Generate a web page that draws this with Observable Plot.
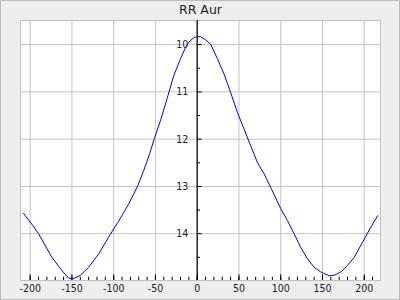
<!DOCTYPE html>
<html>
<head>
<meta charset="utf-8">
<script src="https://cdn.jsdelivr.net/npm/d3@7"></script>
<script src="https://cdn.jsdelivr.net/npm/@observablehq/plot@0.6"></script>
<style>
  html, body { margin: 0; padding: 0; background: #eeeeee; }
  #chart svg { display: block; outline: 1px solid #bdbdbd; outline-offset: -1px; }
</style>
</head>
<body>
<div id="chart"></div>
<script>
const title = "RR Aur";
const phase = [-208, -198, -190, -174, -162, -154, -148, -140, -130, -118, -106, -95, -82, -71, -64, -57, -51, -44, -36, -28, -20, -14, -10, -6, -2, 4, 10, 16, 24, 32, 40, 48, 56, 64, 72, 80, 88, 100, 108, 116, 124, 132, 140, 148, 158, 164, 172, 180, 188, 198, 208, 216];
const mag =   [13.57, 13.80, 14.00, 14.50, 14.78, 14.94, 14.95, 14.88, 14.71, 14.43, 14.07, 13.76, 13.37, 12.98, 12.66, 12.31, 11.97, 11.61, 11.14, 10.65, 10.30, 10.06, 9.95, 9.88, 9.84, 9.83, 9.90, 9.99, 10.29, 10.62, 11.01, 11.43, 11.78, 12.14, 12.49, 12.73, 13.02, 13.47, 13.72, 14.00, 14.29, 14.53, 14.71, 14.81, 14.89, 14.88, 14.81, 14.67, 14.50, 14.18, 13.86, 13.62];
const xTicks = [-200, -150, -100, -50, 0, 50, 100, 150, 200];
const xMinor = [-200, -190, -180, -170, -160, -150, -140, -130, -120, -110, -100, -90, -80, -70, -60, -50, -40, -30, -20, -10, 0, 10, 20, 30, 40, 50, 60, 70, 80, 90, 100, 110, 120, 130, 140, 150, 160, 170, 180, 190, 200, 210];
const yTicks = [10, 11, 12, 13, 14];
const yMinor = [10.5, 11.5, 12.5, 13.5, 14.5];

const data = phase.map((p, i) => ({phase: p, mag: mag[i]}));
const yBottom = 14.99;

const chart = Plot.plot({
  width: 400,
  height: 300,
  marginLeft: 20,
  marginRight: 20,
  marginTop: 20,
  marginBottom: 20,
  x: {domain: [-211.6, 219.5], axis: null},
  y: {domain: [9.49, yBottom], reverse: true, axis: null},
  style: {background: "#eeeeee", fontFamily: "'DejaVu Sans Condensed', 'DejaVu Sans', sans-serif", fontSize: "10.5px", color: "#222"},
  marks: [
    Plot.frame({fill: "white", stroke: "#c0c0c0"}),
    Plot.ruleX(xTicks, {x: d => d, stroke: "#c4c4c4"}),
    Plot.ruleY(yTicks, {y: d => d, stroke: "#c4c4c4"}),
    Plot.ruleX([0], {x: d => d, stroke: "black", strokeWidth: 1.2}),
    Plot.ruleY(yTicks, {y: d => d, x1: 0, x2: 6, stroke: "black"}),
    Plot.ruleY(yMinor, {y: d => d, x1: 0, x2: 4, stroke: "black"}),
    Plot.ruleX(xTicks, {x: d => d, y1: yBottom, y2: yBottom - 0.12, stroke: "black"}),
    Plot.ruleX(xMinor, {x: d => d, y1: yBottom, y2: yBottom - 0.07, stroke: "black"}),
    Plot.line(data, {x: "phase", y: "mag", stroke: "#0000ff", strokeWidth: 1}),
    Plot.text(xTicks, {x: d => d, frameAnchor: "bottom", dy: 8, text: d => String(d), textAnchor: "middle", lineAnchor: "middle", fill: "#222"}),
    Plot.text(yTicks, {y: d => d, x: 0, dx: -9, text: d => String(d), textAnchor: "end", lineAnchor: "middle", fill: "#222"}),
    Plot.text([title], {frameAnchor: "top", dy: -10.5, text: d => d, textAnchor: "middle", lineAnchor: "middle", fontFamily: "'DejaVu Sans', sans-serif", fontSize: 12.5, fill: "#222"})
  ]
});
document.getElementById("chart").appendChild(chart);
</script>
</body>
</html>
